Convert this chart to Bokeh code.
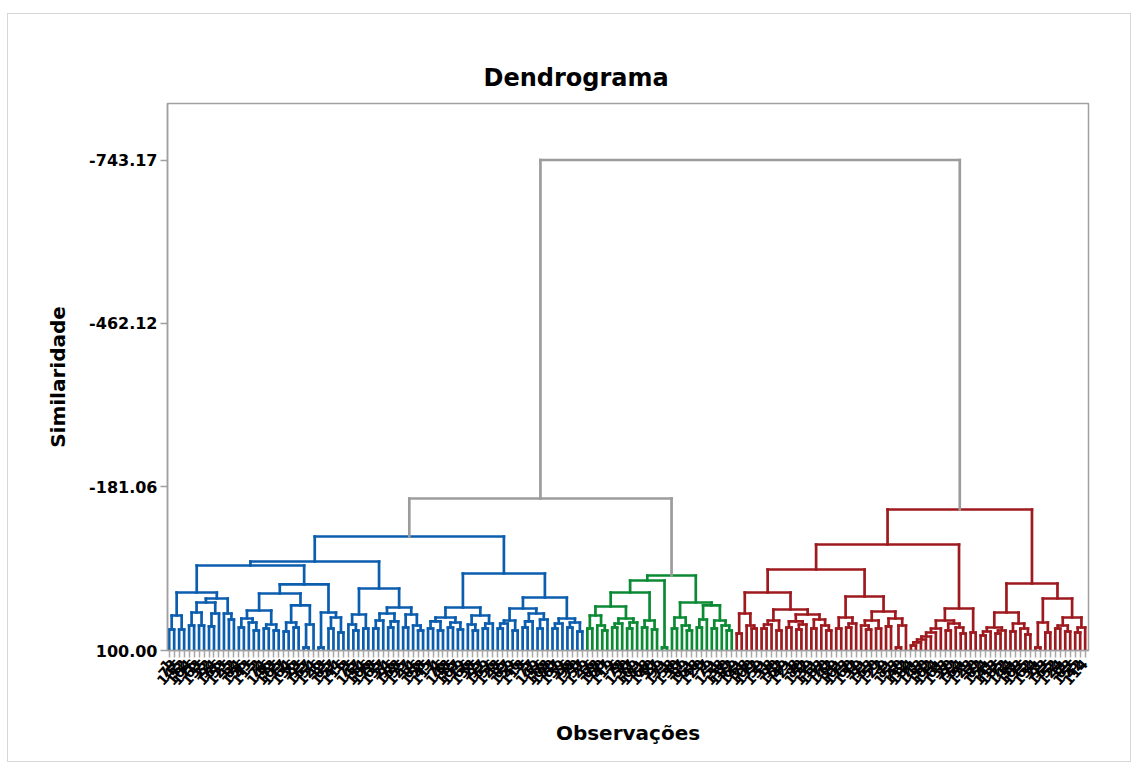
import math
from bokeh.plotting import figure
from bokeh.models import Range1d, FixedTicker, ColumnDataSource
from bokeh.embed import file_html
from bokeh.resources import INLINE

# similarity level at which leaf k and leaf k+1 (dendrogram order) are joined
merge_similarity = [
    63.9, 39.8, 63.9, 0.3, 57.0, 34.7, 57.0, 17.5, 58.7, 36.4,
    10.6, 36.4, 46.7, -46.1, 60.5, 45.0, 51.9, 65.6, 31.2, 62.2,
    55.3, 65.6, 2.0, 67.3, 51.9, 60.5, 22.6, 94.8, 55.3, -13.5,
    94.8, 34.7, 62.2, 43.3, 69.1, -53.0, 55.3, 65.6, 38.1, 62.2,
    -6.6, 62.2, 48.4, 36.4, 60.5, 50.1, 26.1, 60.5, 38.1, 57.0,
    65.6, -96.0, 62.2, 50.1, 65.6, 43.3, 60.5, 51.9, 63.9, 26.1,
    55.3, 65.6, 39.8, 62.2, 53.6, -32.4, 62.2, 53.6, 48.4, 65.6,
    27.8, 60.5, 50.1, 36.4, 62.2, 46.7, 8.9, 62.2, 53.6, 45.0,
    60.5, 51.9, 67.3, -161.3, 62.2, 39.8, 57.0, 65.6, 24.4, 60.5,
    53.6, 45.0, 62.2, 51.9, 0.3, 60.5, 48.4, 63.9, -20.3, 94.8,
    -28.9, 62.2, 43.3, 57.0, 65.6, 17.5, 60.5, 46.7, 22.6, 62.2,
    48.4, 57.0, 65.6, -743.17, 70.8, 36.4, 57.0, 62.2, 0.3, 62.2,
    55.3, 48.4, 65.6, 29.5, 60.5, 50.1, 63.9, 55.3, 38.1, 62.2,
    46.7, 57.0, 65.6, -39.2, 62.2, 43.3, 60.5, 53.6, 7.2, 57.0,
    63.9, 48.4, 62.2, 33.0, 58.7, 45.0, 94.8, 57.0, -82.2, 91.4,
    86.2, 81.1, 75.9, 69.1, 62.2, 48.4, 65.6, 53.6, 60.5, 70.8,
    27.8, 69.1, -142.4, 74.2, 67.3, 60.5, 70.8, 65.6, 34.7, 67.3,
    53.6, 62.2, 72.5, -15.2, 94.8, 51.9, 69.1, 10.6, 62.2, 57.0,
    67.3, 43.3, 69.1, 60.5,
]
cluster_sizes = [84, 30, 71]
cluster_colors = ["#0B5DAE", "#0B8A34", "#9E1A1F"]
link_color = "#9C9C9C"
y_ticks = [100.00, -181.06, -462.12, -743.17]
y_tick_labels = ["100.00", "-181.06", "-462.12", "-743.17"]
obs_labels = [
    "1", "73", "145", "32", "104", "176", "63", "135", "22", "94", "166", "53", "125", "12", "84", "156", "43", "115",
    "2", "74", "146", "33", "105", "177", "64", "136", "23", "95", "167", "54", "126", "13", "85", "157", "44", "116",
    "3", "75", "147", "34", "106", "178", "65", "137", "24", "96", "168", "55", "127", "14", "86", "158", "45", "117",
    "4", "76", "148", "35", "107", "179", "66", "138", "25", "97", "169", "56", "128", "15", "87", "159", "46", "118",
    "5", "77", "149", "36", "108", "180", "67", "139", "26", "98", "170", "57", "129", "16", "88", "160", "47", "119",
    "6", "78", "150", "37", "109", "181", "68", "140", "27", "99", "171", "58", "130", "17", "89", "161", "48", "120",
    "7", "79", "151", "38", "110", "182", "69", "141", "28", "100", "172", "59", "131", "18", "90", "162", "49", "121",
    "8", "80", "152", "39", "111", "183", "70", "142", "29", "101", "173", "60", "132", "19", "91", "163", "50", "122",
    "9", "81", "153", "40", "112", "184", "71", "143", "30", "102", "174", "61", "133", "20", "92", "164", "51", "123",
    "10", "82", "154", "41", "113", "185", "72", "144", "31", "103", "175", "62", "134", "21", "93", "165", "52", "124",
    "11", "83", "155", "42", "114",
]
n_leaves = len(merge_similarity) + 1

cluster_of = []
for c, size in enumerate(cluster_sizes):
    cluster_of += [c] * size

segs = dict(x0=[], y0=[], x1=[], y1=[], color=[])


def add(x0, y0, x1, y1, col):
    segs["x0"].append(x0); segs["y0"].append(y0)
    segs["x1"].append(x1); segs["y1"].append(y1)
    segs["color"].append(col)


def build(lo, hi):
    if lo == hi:
        return float(lo), 100.0
    k = min(range(lo, hi), key=lambda j: merge_similarity[j])
    xl, hl = build(lo, k)
    xr, hr = build(k + 1, hi)
    h = merge_similarity[k]
    cl = set(cluster_of[lo:hi + 1])
    col = cluster_colors[cl.pop()] if len(cl) == 1 else link_color
    add(xl, hl, xl, h, col)
    add(xr, hr, xr, h, col)
    add(xl, h, xr, h, col)
    return (xl + xr) / 2.0, h


build(0, n_leaves - 1)
src = ColumnDataSource(segs)

p = figure(width=1122, height=747,
           x_range=Range1d(-0.34, 184.67), y_range=Range1d(100, -840.3),
           output_backend="svg", toolbar_location=None,
           min_border_left=159, min_border_right=42,
           min_border_top=89, min_border_bottom=111,
           title="Dendrograma",
           styles={"margin-top": "14px", "margin-left": "8px",
                   "outline": "1px solid #d6d6d6"})

p.segment(x0="x0", y0="y0", x1="x1", y1="y1", color="color",
          line_width=2.7, line_cap="square", source=src)

p.xgrid.visible = False
p.ygrid.visible = False
p.outline_line_color = "#A0A0A0"
p.outline_line_width = 1.5
p.background_fill_color = "white"
p.border_fill_color = "white"

p.title.text_font = "DejaVu Sans"
p.title.text_font_size = "24px"
p.title.text_font_style = "bold"
p.title.text_color = "black"
p.title.align = "left"
p.title.offset = 316
p.title.standoff = 23

ax = p.yaxis[0]
ax.ticker = FixedTicker(ticks=y_ticks)
ax.major_label_overrides = {t: l for t, l in zip(y_ticks, y_tick_labels)}
ax.axis_label = "Similaridade"
ax.axis_label_text_font = "DejaVu Sans"
ax.axis_label_text_font_size = "20px"
ax.axis_label_text_font_style = "bold"
ax.axis_label_text_color = "black"
ax.axis_label_standoff = 16
ax.major_label_text_font = "DejaVu Sans"
ax.major_label_text_font_size = "16px"
ax.major_label_text_font_style = "bold"
ax.major_label_text_color = "black"
ax.major_label_standoff = 3
ax.major_tick_out = 7
ax.major_tick_in = 0
ax.minor_tick_out = 0
ax.minor_tick_in = 0
ax.axis_line_color = "#A0A0A0"
ax.axis_line_width = 1.5
ax.major_tick_line_color = "#A0A0A0"
ax.major_tick_line_width = 1.5

bx = p.xaxis[0]
bx.ticker = FixedTicker(ticks=list(range(n_leaves)))
bx.major_label_overrides = {i: s for i, s in enumerate(obs_labels)}
bx.major_label_orientation = math.radians(48)
bx.axis_label = "Observações"
bx.axis_label_text_font = "DejaVu Sans"
bx.axis_label_text_font_size = "20px"
bx.axis_label_text_font_style = "bold"
bx.axis_label_text_color = "black"
bx.axis_label_standoff = 28
bx.major_label_text_font = "DejaVu Sans"
bx.major_label_text_font_size = "14px"
bx.major_label_text_font_style = "bold"
bx.major_label_text_color = "black"
bx.major_label_standoff = 4
bx.major_tick_out = 7
bx.major_tick_in = 0
bx.minor_tick_out = 0
bx.minor_tick_in = 0
bx.axis_line_color = "#A0A0A0"
bx.axis_line_width = 1.5
bx.major_tick_line_color = "#A8A8A8"
bx.major_tick_line_width = 1.5

open("out.html", "w").write(file_html(p, INLINE))
